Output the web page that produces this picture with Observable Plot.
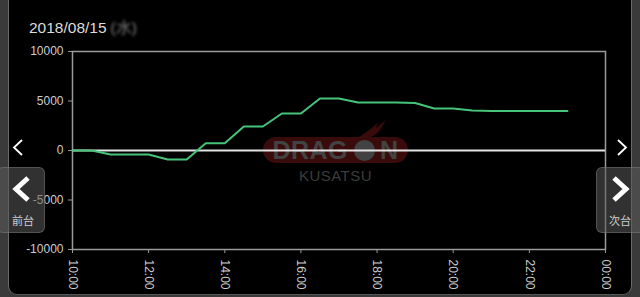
<!DOCTYPE html>
<html>
<head>
<meta charset="utf-8">
<script src="https://cdn.jsdelivr.net/npm/d3@7"></script>
<script src="https://cdn.jsdelivr.net/npm/@observablehq/plot@0.6"></script>
<style>
  html, body { margin: 0; padding: 0; }
  body { width: 640px; height: 297px; background: #3a3a3a; position: relative; overflow: hidden;
         font-family: "Liberation Sans", Arial, sans-serif; }
  #panel { position: absolute; left: 8px; top: -10px; width: 622px; height: 304px; background: #000;
           border-left: 1px solid #6a6a6a; border-right: 1px solid #6a6a6a; border-bottom: 1px solid #555;
           border-radius: 0 0 9px 9px; }
  #title { position: absolute; left: 29px; top: 18px; font-size: 15.5px; color: #dcdcdc; white-space: nowrap; }
  #title .blur { color: rgba(255,255,255,0.5); filter: blur(1.6px); margin-left: 4px; }
  #chart { position: absolute; left: 0; top: 0; }
  .wm { position: absolute; }
  #pill { left: 263px; top: 137px; width: 145px; height: 26px; border-radius: 13px; background: #3a0b0b; }
  #wmtext { left: 263px; top: 137px; width: 145px; height: 26px; display: flex; align-items: center; justify-content: center;
            font-weight: bold; font-size: 25px; color: #424242; letter-spacing: 0.5px; }
  #wmtext .o { width: 21px; height: 21px; border-radius: 50%; background: #424242; margin: 0 5px 0 6px; }
  #wmsub { left: 263px; top: 167px; width: 145px; text-align: center; font-size: 15px; color: #3c3c3c; letter-spacing: 0.5px; }
  #flame { left: 352px; top: 118px; }
  .btn { position: absolute; top: 167px; width: 46px; height: 64px; background: rgba(90,90,90,0.55);
         border: 1px solid rgba(150,150,150,0.35); border-radius: 6px; }
  .btn .lbl { position: absolute; top: 44px; width: 100%; text-align: center; font-size: 11px; color: #cfcfcf;
              font-family: "Noto Sans CJK JP", sans-serif; }
  .btn svg { position: absolute; top: 6px; }
  .small { position: absolute; top: 138px; }
</style>
</head>
<body>
<div id="panel"></div>
<div class="wm" id="pill"></div>
<svg class="wm" id="flame" width="40" height="24"><path d="M4,22 C12,14 20,12 26,4 L24,10 L34,2 L28,12 C24,18 16,20 10,22 Z" fill="#3a0b0b"/></svg>
<div class="wm" id="wmtext"><span>DRAG</span><div class="o"></div><span>N</span></div>
<div class="wm" id="wmsub">KUSATSU</div>
<div id="chart"></div>
<div id="title">2018/08/15<span class="blur">(水)</span></div>
<svg class="small" style="left:11px" width="14" height="20"><polyline points="11,2 3,9.5 11,17" fill="none" stroke="#fff" stroke-width="1.8"/></svg>
<svg class="small" style="left:615px" width="14" height="20"><polyline points="3,2 11,9.5 3,17" fill="none" stroke="#fff" stroke-width="1.8"/></svg>
<div class="btn" style="left:-3px">
  <svg style="left:12px" width="24" height="32"><polyline points="18,4 6,15 18,26" fill="none" stroke="#fff" stroke-width="5" stroke-linejoin="miter"/></svg>
  <div class="lbl" style="padding-left:2px">前台</div>
</div>
<div class="btn" style="left:596px">
  <svg style="left:11px" width="24" height="32"><polyline points="6,4 18,15 6,26" fill="none" stroke="#fff" stroke-width="5" stroke-linejoin="miter"/></svg>
  <div class="lbl" style="padding-right:2px">次台</div>
</div>
<script>
// Data
const times = ["10:00","10:30","11:00","11:30","12:00","12:30","13:00","13:30","14:00","14:30",
               "15:00","15:30","16:00","16:30","17:00","17:30","18:00","18:30","19:00","19:30",
               "20:00","20:30","21:00","21:30","22:00","22:30","23:00"];
const values = [0, 0, -400, -400, -400, -900, -900, 740, 740, 2420,
                2420, 3740, 3740, 5250, 5250, 4850, 4850, 4850, 4800, 4250,
                4250, 4050, 4000, 4000, 4000, 4000, 4000];
const xTickHours = [10, 12, 14, 16, 18, 20, 22, 24];
const xTickLabels = ["10:00","12:00","14:00","16:00","18:00","20:00","22:00","00:00"];
const yTicks = [-10000, -5000, 0, 5000, 10000];

const toHour = s => { const [h, m] = s.split(":").map(Number); return h + m / 60; };
const data = times.map((t, i) => ({h: toHour(t), v: values[i]}));

const chart = Plot.plot({
  width: 640,
  height: 297,
  marginLeft: 72,
  marginRight: 35,
  marginTop: 51,
  marginBottom: 48,
  style: {background: "transparent", color: "#cccccc", fontFamily: "'Liberation Sans', Arial, sans-serif", fontSize: "12px"},
  x: {domain: [10, 24]},
  y: {domain: [-10000, 10000]},
  marks: [
    Plot.frame({stroke: "#9a9a9a", strokeWidth: 1.5}),
    Plot.ruleY([0], {stroke: "#e4e4e4", strokeWidth: 2}),
    Plot.axisY({ticks: yTicks, tickFormat: d => String(d), tickSize: 4, tickPadding: 5,
                stroke: "#9a9a9a", fill: "#cccccc", label: null}),
    Plot.axisX({ticks: xTickHours, tickFormat: d => xTickLabels[xTickHours.indexOf(d)], tickRotate: 90,
                tickSize: 4, tickPadding: 6, stroke: "#9a9a9a", fill: "#cccccc", label: null}),
    Plot.line(data, {x: "h", y: "v", stroke: "#45c47a", strokeWidth: 2})
  ]
});
document.getElementById("chart").appendChild(chart);
</script>
</body>
</html>
